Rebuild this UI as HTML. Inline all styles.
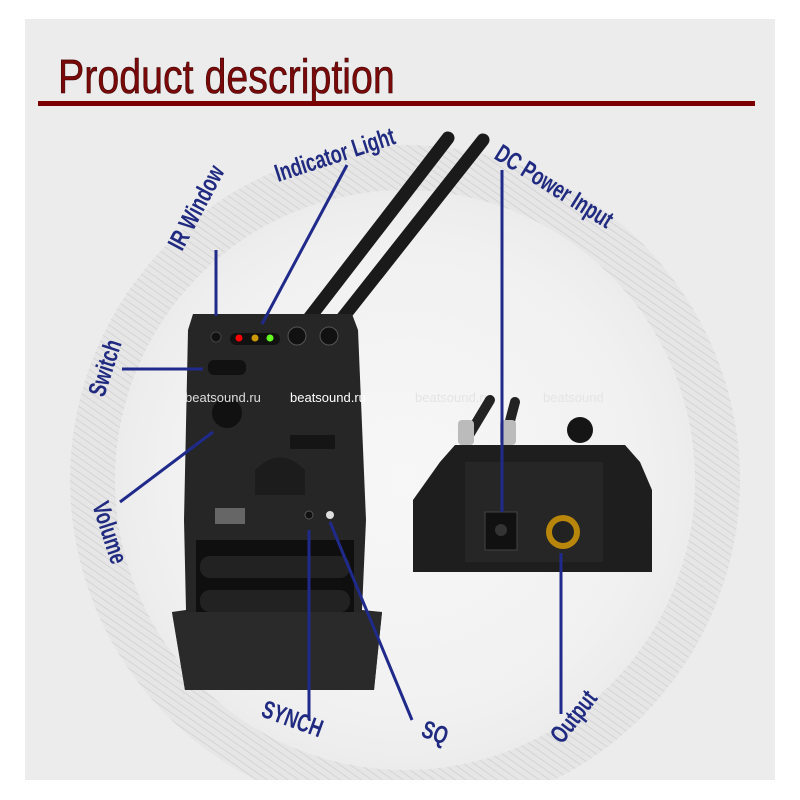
<!DOCTYPE html>
<html><head><meta charset="utf-8"><style>
html,body{margin:0;padding:0;background:#fff;}
svg{display:block;}
.lbl{font-family:"Liberation Sans",sans-serif;font-weight:bold;fill:#1f2a80;font-size:25px;}
</style></head><body>
<svg width="800" height="800" viewBox="0 0 800 800" xmlns="http://www.w3.org/2000/svg">
<defs>
<pattern id="hatch" width="6" height="6" patternUnits="userSpaceOnUse" patternTransform="rotate(-55)">
<rect width="6" height="6" fill="#e6e6e6"/><line x1="0" y1="0" x2="0" y2="6" stroke="#cfcfcf" stroke-width="1.5"/>
</pattern>
<radialGradient id="glow" cx="0.5" cy="0.5" r="0.5">
<stop offset="0" stop-color="#f7f7f7"/><stop offset="0.8" stop-color="#f1f1f1"/><stop offset="1" stop-color="#ececec"/>
</radialGradient>
<clipPath id="bg"><rect x="25" y="19" width="750" height="761"/></clipPath>
</defs>
<rect width="800" height="800" fill="#fff"/>
<rect x="25" y="19" width="750" height="761" fill="#ececec"/>
<g clip-path="url(#bg)">
<circle cx="405" cy="480" r="335" fill="url(#hatch)"/>
<circle cx="405" cy="480" r="290" fill="url(#glow)"/>
</g>
<text x="58" y="93" font-family="Liberation Sans,sans-serif" font-size="48" fill="#7a0a0a" stroke="#3a0000" stroke-width="0.6" transform="translate(58 0) scale(0.82 1) translate(-58 0)">Product description</text>
<rect x="38" y="101" width="717" height="5" fill="#7a0000"/>

<g stroke-linecap="round">
<line x1="448" y1="138" x2="300" y2="330" stroke="#1a1a1a" stroke-width="13"/>
<line x1="483" y1="140" x2="333" y2="330" stroke="#1a1a1a" stroke-width="13"/>
</g>
<path d="M193 314 L352 314 L358 330 L366 520 L362 610 L382 612 L374 690 L185 690 L172 612 L186 610 L184 520 L188 330 Z" fill="#262626"/>
<rect x="196" y="540" width="158" height="82" fill="#0f0f0f"/>
<rect x="200" y="556" width="150" height="22" rx="10" fill="#222"/>
<rect x="200" y="590" width="150" height="22" rx="10" fill="#222"/>
<path d="M172 612 L382 612 L374 690 L185 690 Z" fill="#2a2a2a"/>
<rect x="230" y="333" width="50" height="12" rx="6" fill="#111"/>
<circle cx="239" cy="338" r="3.5" fill="#f00"/><circle cx="255" cy="338" r="3.5" fill="#c90"/><circle cx="270" cy="338" r="3.5" fill="#6f2"/>
<circle cx="216" cy="337" r="5" fill="#111" stroke="#444"/>
<circle cx="297" cy="336" r="9" fill="#111" stroke="#555"/>
<circle cx="329" cy="336" r="9" fill="#111" stroke="#555"/>
<rect x="208" y="360" width="38" height="15" rx="6" fill="#111"/>
<circle cx="227" cy="413" r="15" fill="#111"/>
<rect x="290" y="435" width="45" height="14" fill="#151515"/>
<path d="M255 470 Q280 445 305 470 L305 495 L255 495 Z" fill="#1c1c1c"/>
<rect x="215" y="508" width="30" height="16" fill="#666"/>
<circle cx="309" cy="515" r="4" fill="#111" stroke="#555"/>
<circle cx="330" cy="515" r="4" fill="#ddd"/>
<text x="185" y="402" font-family="Liberation Sans,sans-serif" font-size="13" fill="#ddd">beatsound.ru</text>
<text x="290" y="402" font-family="Liberation Sans,sans-serif" font-size="13" fill="#fff">beatsound.ru</text>
<text x="415" y="402" font-family="Liberation Sans,sans-serif" font-size="13" fill="#e4e4e4">beatsound.ru</text>
<text x="543" y="402" font-family="Liberation Sans,sans-serif" font-size="13" fill="#e4e4e4">beatsound</text>
<line x1="490" y1="400" x2="466" y2="440" stroke="#222" stroke-width="10" stroke-linecap="round"/>
<line x1="515" y1="402" x2="505" y2="440" stroke="#222" stroke-width="10" stroke-linecap="round"/>
<rect x="458" y="420" width="16" height="25" rx="4" fill="#bbb"/>
<rect x="500" y="420" width="16" height="25" rx="4" fill="#bbb"/>
<circle cx="580" cy="430" r="13" fill="#151515"/>
<path d="M440 462 L455 445 L625 445 L640 462 L652 490 L652 572 L413 572 L413 500 Z" fill="#1e1e1e"/>
<rect x="465" y="462" width="138" height="100" fill="#262626"/>
<rect x="485" y="512" width="32" height="38" fill="#111" stroke="#444"/>
<circle cx="501" cy="530" r="6" fill="#333"/>
<circle cx="563" cy="532" r="17" fill="#b8860b"/><circle cx="563" cy="532" r="11" fill="#222"/>
<g stroke="#1f2a8a" stroke-width="3" fill="none">
<line x1="216" y1="250" x2="216" y2="316"/>
<line x1="347" y1="165" x2="262" y2="324"/>
<line x1="502" y1="170" x2="502" y2="512"/>
<line x1="122" y1="369" x2="203" y2="369"/>
<line x1="120" y1="502" x2="213" y2="432"/>
<line x1="309" y1="530" x2="309" y2="720"/>
<line x1="330" y1="522" x2="412" y2="720"/>
<line x1="561" y1="553" x2="561" y2="714"/>
</g>
<g class="lbl">
<text transform="translate(182 252) rotate(-62) scale(0.72 1)">IR Window</text>
<text transform="translate(278 182) rotate(-18) scale(0.72 1)">Indicator Light</text>
<text transform="translate(493 158) rotate(32) scale(0.72 1)">DC Power Input</text>
<text transform="translate(104 398) rotate(-72) scale(0.72 1)">Switch</text>
<text transform="translate(92 505) rotate(72) scale(0.72 1)">Volume</text>
<text transform="translate(260 716) rotate(20) scale(0.72 1)">SYNCH</text>
<text transform="translate(420 736) rotate(20) scale(0.72 1)">SQ</text>
<text transform="translate(562 745) rotate(-52) scale(0.72 1)">Output</text>
</g>
</svg>
</body></html>
